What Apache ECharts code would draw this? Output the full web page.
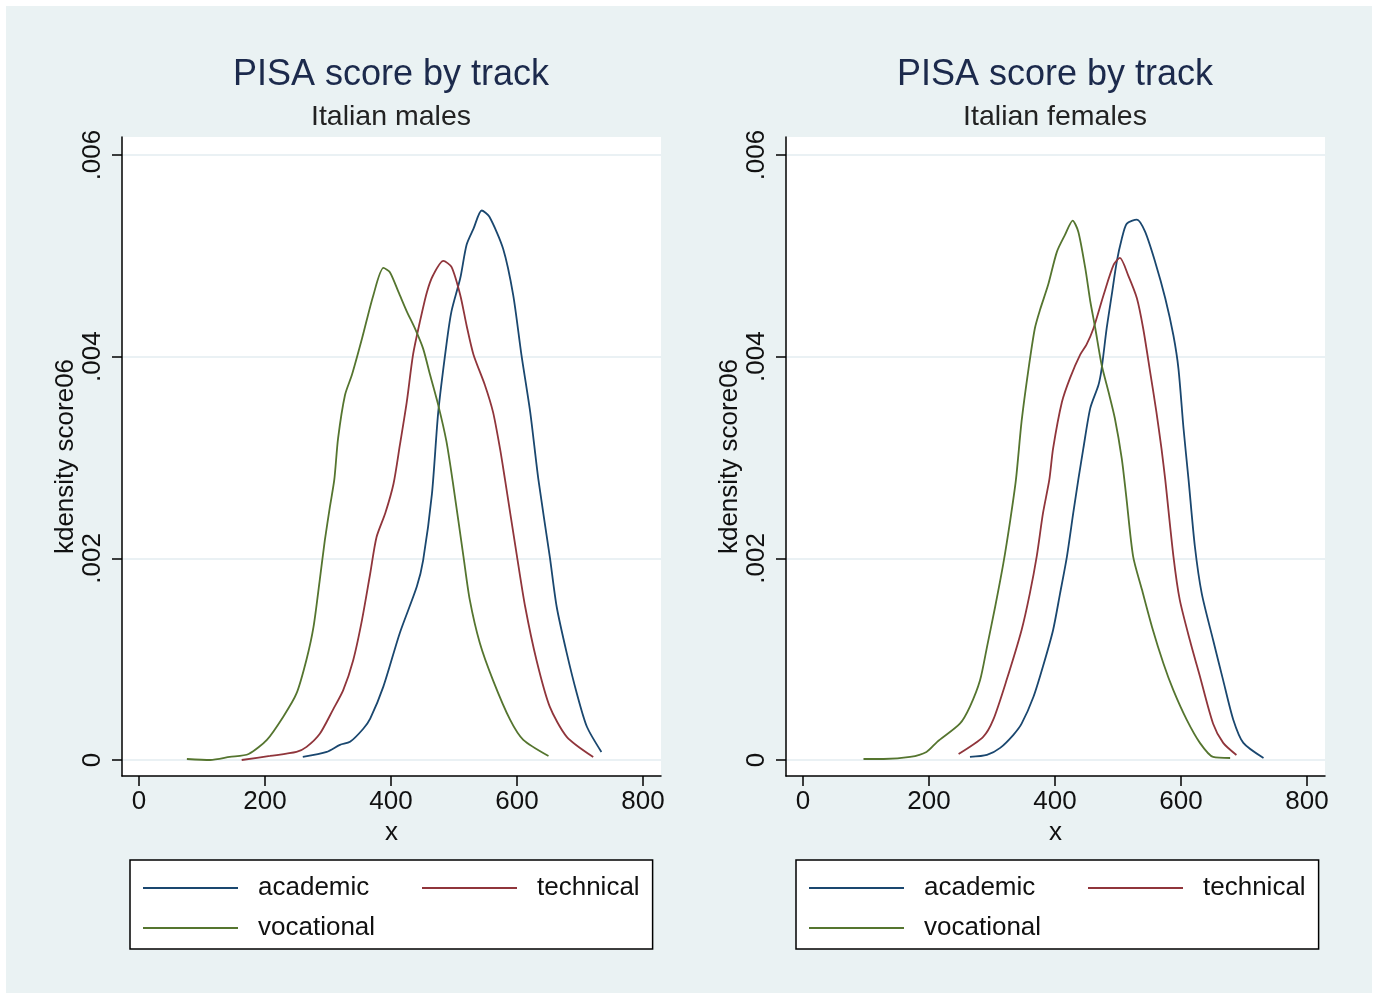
<!DOCTYPE html>
<html>
<head>
<meta charset="utf-8">
<script src="https://cdn.jsdelivr.net/npm/echarts@6/dist/echarts.min.js"></script>
<style>
html,body{margin:0;padding:0;background:#fff;}
#chart{width:1378px;height:998px;}
</style>
</head>
<body>
<div id="chart"></div>
<script>
// ---------- data (x = score, y = kernel density) ----------
const seriesNames = ['academic', 'technical', 'vocational'];
const panelTitles = ['PISA score by track', 'PISA score by track'];
const panelSubtitles = ['Italian males', 'Italian females'];
const xTicks = [0, 200, 400, 600, 800];
const yTicks = [0, 0.002, 0.004, 0.006];

const maleAcademic = [[260,0.00003],[298,0.00008],[319,0.00015],[335,0.00018],[356,0.00031],[367,0.00041],[388,0.00073],[414,0.00126],[441,0.00172],[451,0.00198],[465,0.00264],[475,0.00345],[488,0.00412],[496,0.00445],[510,0.00478],[520,0.00511],[531,0.00527],[544,0.00545],[556,0.00539],[578,0.00507],[594,0.00461],[607,0.00402],[621,0.00345],[634,0.00278],[652,0.00202],[663,0.00152],[679,0.00106],[695,0.00066],[711,0.00033],[734,0.00008]];
const maleTechnical = [[163,0],[208,0.00004],[250,0.00008],[266,0.00013],[287,0.00026],[308,0.0005],[324,0.00069],[340,0.00099],[354,0.00139],[367,0.00185],[377,0.00221],[391,0.00245],[404,0.00274],[414,0.00312],[425,0.00355],[435,0.00402],[446,0.00435],[457,0.00464],[467,0.00481],[483,0.00495],[496,0.00489],[510,0.00461],[520,0.00431],[531,0.00402],[549,0.00372],[562,0.00345],[573,0.00309],[581,0.00278],[600,0.00202],[613,0.00152],[631,0.00099],[652,0.00053],[679,0.00023],[721,0.00003]];
const maleVocational = [[76,0.00001],[113,0],[144,0.00003],[174,0.00006],[203,0.0002],[229,0.00043],[250,0.00066],[266,0.001],[277,0.00132],[287,0.00179],[295,0.00218],[303,0.00251],[310,0.00278],[316,0.00319],[327,0.00362],[338,0.00382],[354,0.00418],[372,0.00461],[388,0.00488],[398,0.00484],[412,0.00464],[425,0.00445],[438,0.00428],[451,0.00408],[462,0.00382],[475,0.00352],[488,0.00316],[499,0.00272],[515,0.00202],[525,0.00159],[541,0.00116],[562,0.00079],[589,0.0004],[610,0.0002],[650,0.00004]];
const femaleAcademic = [[265,0.00003],[292,0.00005],[313,0.00012],[334,0.00025],[347,0.00036],[366,0.00063],[381,0.00093],[397,0.00129],[408,0.00165],[419,0.00202],[429,0.00245],[437,0.00278],[445,0.00309],[456,0.00349],[469,0.00372],[474,0.00388],[482,0.00428],[490,0.00461],[498,0.00494],[506,0.00517],[514,0.00532],[530,0.00536],[543,0.00524],[559,0.00494],[575,0.00458],[588,0.00421],[596,0.00388],[604,0.00329],[612,0.00278],[622,0.00212],[633,0.00165],[651,0.00119],[667,0.00079],[683,0.0004],[699,0.00017],[731,0.00002]];
const femaleTechnical = [[247,0.00006],[286,0.00023],[302,0.0004],[323,0.00079],[347,0.00129],[360,0.00165],[371,0.00202],[381,0.00245],[391,0.00278],[397,0.00309],[411,0.00355],[424,0.00379],[440,0.00402],[450,0.00412],[461,0.00428],[477,0.00461],[493,0.00491],[503,0.00498],[516,0.00481],[530,0.00458],[540,0.00428],[551,0.00385],[561,0.00345],[569,0.00309],[575,0.00278],[588,0.00202],[598,0.00159],[614,0.00119],[630,0.00083],[651,0.00036],[667,0.00017],[688,0.00005]];
const femaleVocational = [[96,0.00001],[128,0.00001],[170,0.00003],[196,0.00008],[213,0.00018],[249,0.00036],[265,0.00053],[281,0.00079],[292,0.00112],[305,0.00152],[318,0.00195],[329,0.00238],[338,0.00278],[347,0.00336],[358,0.00388],[368,0.00428],[376,0.00446],[389,0.00471],[403,0.00504],[416,0.00521],[428,0.00535],[437,0.00524],[448,0.00488],[456,0.00455],[464,0.00428],[474,0.00392],[485,0.00365],[495,0.00339],[506,0.00299],[513,0.00262],[524,0.00202],[538,0.00169],[554,0.00132],[572,0.00096],[588,0.00069],[609,0.0004],[630,0.00017],[651,0.00003],[678,0.00002]];

const panelData = [
  [maleAcademic, maleTechnical, maleVocational],
  [femaleAcademic, femaleTechnical, femaleVocational]
];

// ---------- styling ----------
const FONT = '"Liberation Sans", Arial, sans-serif';
const colors = ['#1a476f', '#90353b', '#55752f'];
const panelLeft = [122, 786];
const plotW = 539, plotTop = 137, plotH = 639;

const grids = [], xAxes = [], yAxes = [], titles = [], legends = [], series = [];
for (let p = 0; p < 2; p++) {
  const L = panelLeft[p];
  grids.push({left: L, top: plotTop, width: plotW, height: plotH, show: true,
              backgroundColor: '#fff', borderWidth: 0, containLabel: false});
  xAxes.push({
    type: 'value', gridIndex: p, min: -27, max: 828.6,
    name: 'x', nameLocation: 'middle', nameGap: 40,
    nameTextStyle: {fontFamily: FONT, fontSize: 26, color: '#111'},
    axisLine: {show: true, onZero: false, lineStyle: {color: '#000', width: 1.5}},
    axisTick: {show: true, length: 10, customValues: xTicks, lineStyle: {color: '#000', width: 1.5}},
    axisLabel: {customValues: xTicks, margin: 13, fontFamily: FONT, fontSize: 26, color: '#111'},
    splitLine: {show: false}
  });
  yAxes.push({
    type: 'value', gridIndex: p, min: -0.0001587, max: 0.006179,
    name: 'kdensity score06', nameLocation: 'middle', nameRotate: 90, nameGap: 42,
    nameTextStyle: {fontFamily: FONT, fontSize: 26, color: '#111'},
    axisLine: {show: true, onZero: false, lineStyle: {color: '#000', width: 1.5}},
    axisTick: {show: true, length: 10, customValues: yTicks, lineStyle: {color: '#000', width: 1.5}},
    axisLabel: {customValues: yTicks, rotate: 90, margin: 16, fontFamily: FONT, fontSize: 26, color: '#111',
                formatter: v => v === 0 ? '0' : String(Number(v.toFixed(3))).replace(/^0/, '')},
    splitLine: {show: true, lineStyle: {color: '#e3edf1', width: 1.5}}
  });
  titles.push({
    text: panelTitles[p], subtext: panelSubtitles[p],
    left: L + plotW / 2 - 0.5, top: 57, textAlign: 'center', padding: 0, itemGap: 10,
    textStyle: {fontFamily: FONT, fontSize: 36, fontWeight: 'normal', color: '#1c2a4c'},
    subtextStyle: {fontFamily: FONT, fontSize: 28.5, color: '#222'}
  });
  legends.push({
    left: L + 8 + p * 2, top: 860, width: 500, orient: 'horizontal',
    padding: [13, 13, 6, 13], itemGap: 10,
    backgroundColor: '#fff', borderColor: '#000', borderWidth: 1.5,
    itemWidth: 95, itemHeight: 2, icon: 'rect',
    data: [
      {name: seriesNames[0], textStyle: {width: 154}},
      {name: seriesNames[1]},
      {name: seriesNames[2]}
    ],
    selectedMode: false,
    textStyle: {fontFamily: FONT, fontSize: 26, color: '#111', lineHeight: 30, padding: [0, 0, 0, 15]}
  });
  for (let s = 0; s < 3; s++) {
    series.push({
      type: 'line', name: seriesNames[s], xAxisIndex: p, yAxisIndex: p,
      data: panelData[p][s], showSymbol: false, symbol: 'none', smooth: 0.25,
      lineStyle: {color: colors[s], width: 1.8}, itemStyle: {color: colors[s]},
      animation: false, silent: true
    });
  }
}

const chart = echarts.init(document.getElementById('chart'), null, {renderer: 'canvas'});
chart.setOption({
  backgroundColor: '#fff',
  animation: false,
  graphic: [{type: 'rect', z: -10, silent: true, shape: {x: 6, y: 6, width: 1366, height: 987},
             style: {fill: '#eaf2f3'}}],
  title: titles, grid: grids, xAxis: xAxes, yAxis: yAxes, legend: legends, series: series
});
</script>
</body>
</html>
